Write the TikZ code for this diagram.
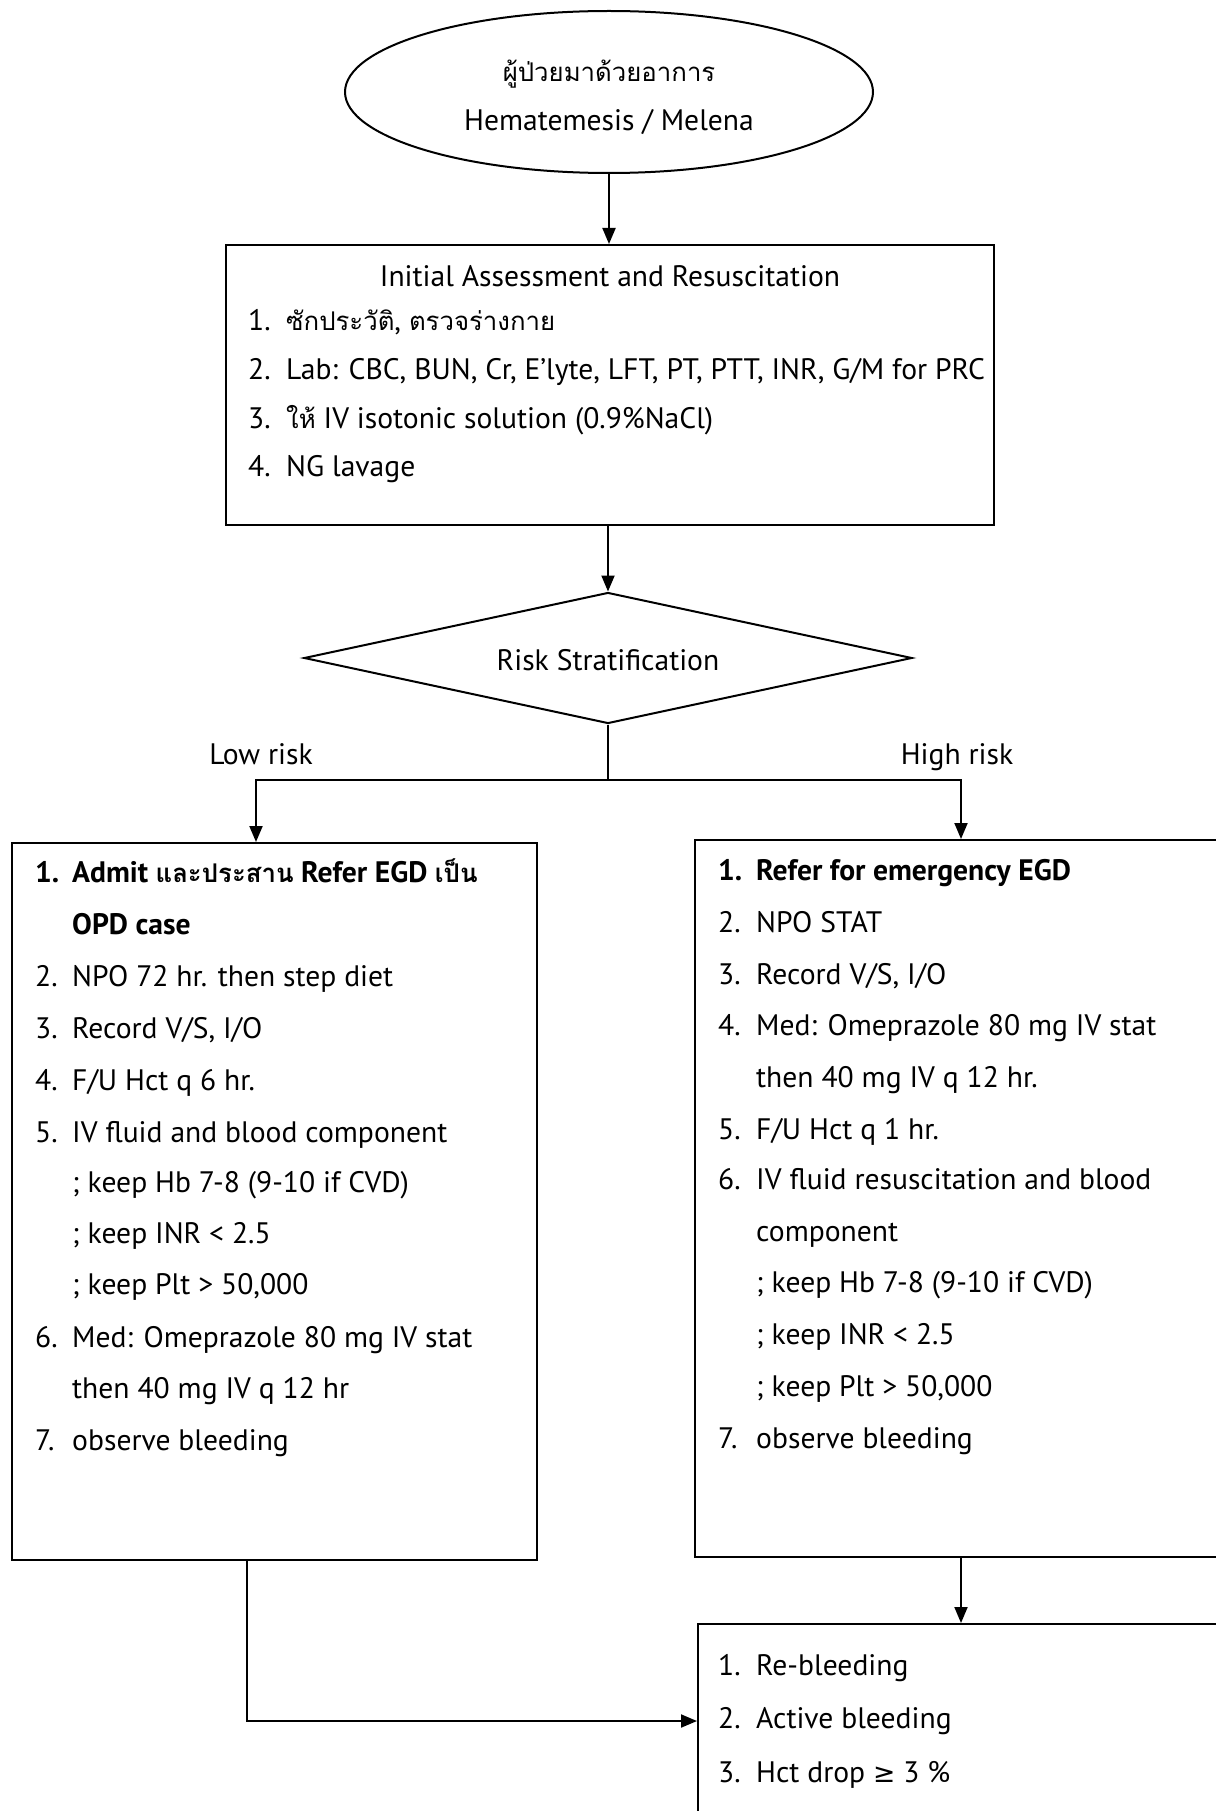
\documentclass[tikz,border=0pt]{standalone}
\usepackage{fontspec}
\setmainfont{PT Sans}
\newfontfamily\thai[Script=Thai,Scale=0.87]{Loma}
\newfontfamily\symfont[Scale=0.9]{DejaVu Sans}
\usetikzlibrary{shapes.geometric,arrows.meta}
\tikzset{
  ln/.style={line width=2pt, draw=black},
  arr/.style={ln, -{Triangle[length=16pt,width=13pt]}},
  txt/.style={anchor=base west, inner sep=0pt, font=\fontsize{29.6}{36}\selectfont},
  ctxt/.style={txt, anchor=base},
  boxs/.style={ln, rectangle, inner sep=0pt},
}
\newcommand\itemline[6]{\node[txt] (#1a) at (#2,#4) {#5}; \node[txt] (#1b) at (#3,#4) {#6};}
\newcommand\contline[4]{\node[txt] (#1b) at (#2,#3) {#4};}
\begin{document}
\begin{tikzpicture}[x=1pt,y=-1pt]
\useasboundingbox (0,0) rectangle (1215,1811);
\fill[white] (0,0) rectangle (1215,1811);
% start ellipse
\node[ln, ellipse, minimum width=528pt, minimum height=162pt, inner sep=0pt] (start) at (609,92) {};
\node[ctxt] (st1) at (609,82) {\thai ผู้ป่วยมาด้วยอาการ};
\node[ctxt] (st2) at (609,131) {Hematemesis / Melena};
% initial assessment box
\node[boxs, minimum width=768pt, minimum height=280pt] (ia) at (610,385) {};
\node[ctxt] (iat) at (610,286) {Initial Assessment and Resuscitation};
\itemline{ia1}{248}{286}{330}{1.}{{\thai ซักประวัติ}, {\thai ตรวจร่างกาย}}
\itemline{ia2}{248}{286}{379}{2.}{Lab: CBC, BUN, Cr, E’lyte, LFT, PT, PTT, INR, G/M for PRC}
\itemline{ia3}{248}{286}{428}{3.}{{\thai ให้} IV isotonic solution (0.9\%NaCl)}
\itemline{ia4}{248}{286}{476}{4.}{NG lavage}
% diamond
\node[ln, diamond, minimum width=608pt, minimum height=131pt, inner sep=0pt] (dia) at (608,658) {};
\node[ctxt] (diat) at (608,670) {Risk Stratification};
\node[ctxt] (low) at (261,764) {Low risk};
\node[ctxt] (high) at (957,764) {High risk};
% left box
\node[boxs, minimum width=525pt, minimum height=717pt] (lbox) at (274.5,1201.5) {};
\itemline{l1}{35}{72}{882}{\bfseries 1.}{\bfseries Admit {\thai และประสาน} Refer EGD {\thai เป็น}}
\contline{l1c}{72}{934}{\bfseries OPD case}
\itemline{l2}{35}{72}{986}{2.}{NPO 72 hr. then step diet}
\itemline{l3}{35}{72}{1038}{3.}{Record V/S, I/O}
\itemline{l4}{35}{72}{1090}{4.}{F/U Hct q 6 hr.}
\itemline{l5}{35}{72}{1142}{5.}{IV fluid and blood component}
\contline{l5c}{72}{1192}{; keep Hb 7-8 (9-10 if CVD)}
\contline{l5d}{72}{1243}{; keep INR < 2.5}
\contline{l5e}{72}{1294}{; keep Plt > 50,000}
\itemline{l6}{35}{72}{1347}{6.}{Med: Omeprazole 80 mg IV stat}
\contline{l6c}{72}{1398}{then 40 mg IV q 12 hr}
\itemline{l7}{35}{72}{1450}{7.}{observe bleeding}
% right box
\node[boxs, minimum width=540pt, minimum height=717pt] (rbox) at (965,1198.5) {};
\itemline{r1}{718}{756}{880}{\bfseries 1.}{\bfseries Refer for emergency EGD}
\itemline{r2}{718}{756}{932}{2.}{NPO STAT}
\itemline{r3}{718}{756}{984}{3.}{Record V/S, I/O}
\itemline{r4}{718}{756}{1035}{4.}{Med: Omeprazole 80 mg IV stat}
\contline{r4c}{756}{1087}{then 40 mg IV q 12 hr.}
\itemline{r5}{718}{756}{1139}{5.}{F/U Hct q 1 hr.}
\itemline{r6}{718}{756}{1189}{6.}{IV fluid resuscitation and blood}
\contline{r6c}{756}{1241}{component}
\contline{r6d}{756}{1292}{; keep Hb 7-8 (9-10 if CVD)}
\contline{r6e}{756}{1344}{; keep INR < 2.5}
\contline{r6f}{756}{1396}{; keep Plt > 50,000}
\itemline{r7}{718}{756}{1448}{7.}{observe bleeding}
% bottom box
\node[boxs, minimum width=537pt, minimum height=206pt] (bbox) at (966.5,1727) {};
\itemline{b1}{718}{756}{1675}{1.}{Re-bleeding}
\itemline{b2}{718}{756}{1728}{2.}{Active bleeding}
\itemline{b3}{718}{756}{1782}{3.}{Hct drop {\symfont ≥} 3 \%}
% connectors
\draw[arr] (start.south) -- (start.south |- ia.north);
\draw[arr] (ia.south -| dia.north) -- (dia.north);
\coordinate (split) at (608,780);
\coordinate (lsp) at (256,780);
\coordinate (rsp) at (961,780);
\draw[ln] (dia.south) -- (split);
\draw[arr] (split) -- (lsp) -- (lsp |- lbox.north);
\draw[arr] (split) -- (rsp) -- (rsp |- rbox.north);
\coordinate (lout) at (247,1721);
\draw[arr] (lout |- lbox.south) -- (lout) -- (lout -| bbox.west);
\coordinate (rout) at (961,1600);
\draw[arr] (rout |- rbox.south) -- (rout |- bbox.north);
\end{tikzpicture}
\end{document}
